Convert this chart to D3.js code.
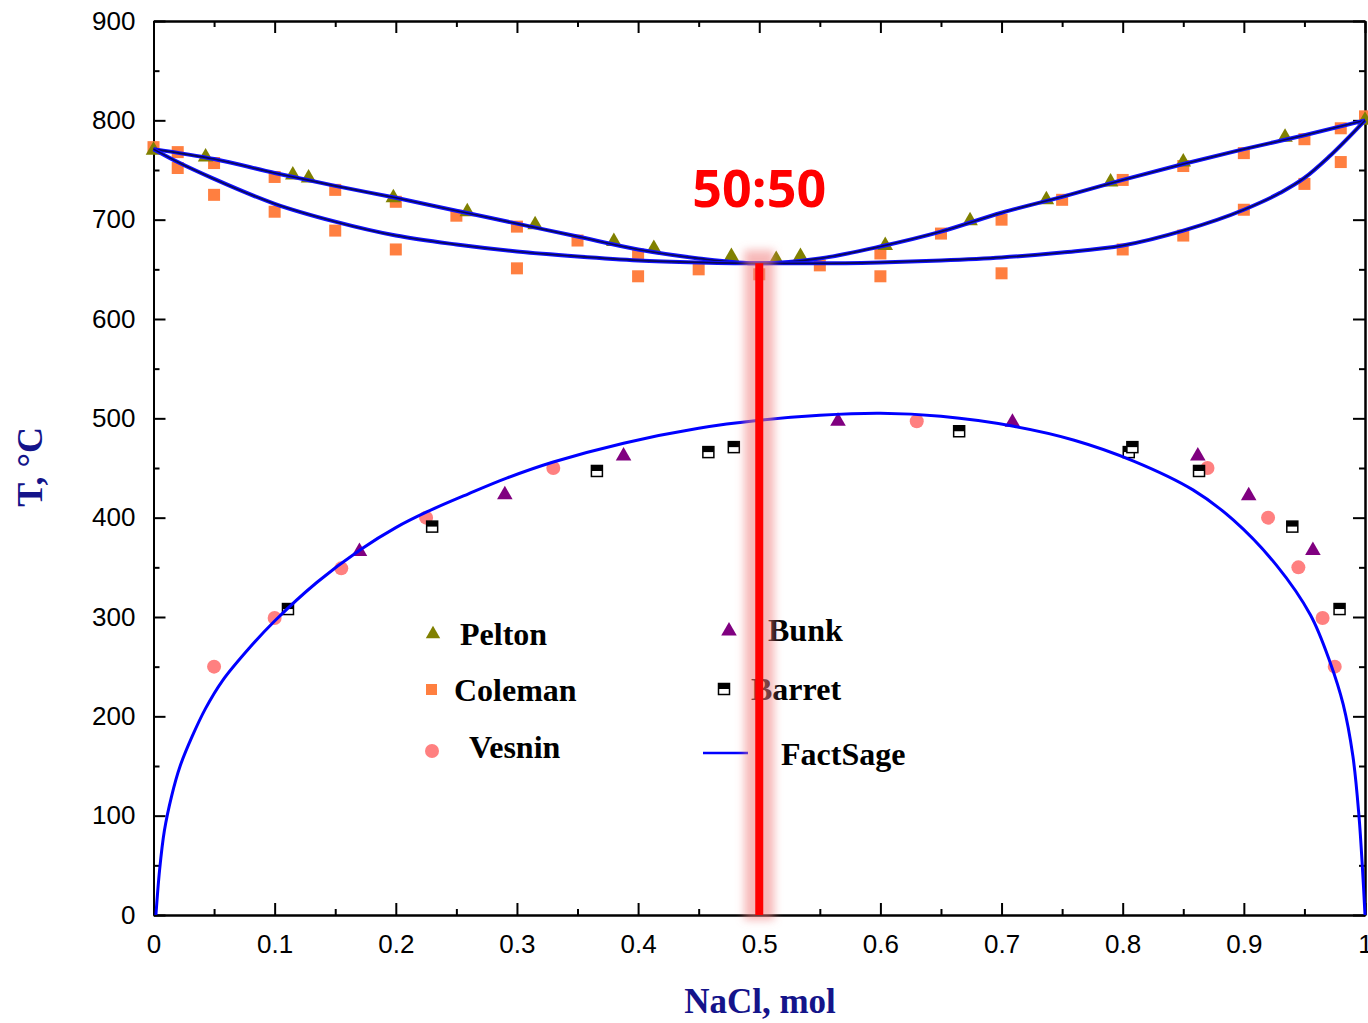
<!DOCTYPE html>
<head>
  <meta charset="utf-8">
  <title>NaCl phase diagram</title>
  <script src="https://cdn.jsdelivr.net/npm/d3@7/dist/d3.min.js"></script>
  <style>
  body { margin: 0; background: #fff; }
  .axis path, .axis line { stroke: #000; stroke-width: 2px; }
  .axis text { font-family: "Liberation Sans", Arial, sans-serif; font-size: 26px; fill: #000; }
  .legend text { font-family: "Liberation Serif", "Times New Roman", serif; font-weight: bold; font-size: 32px; fill: #000; }
  </style>
</head>
<body>
<script>
var WIDTH = 1368, HEIGHT = 1023;

// data: [NaCl mole fraction, T in degC]
var pelton = [[0,770],[0.043,763],[0.115,745],[0.128,742],[0.198,722],[0.259,708],[0.315,695],[0.38,678],[0.413,671],[0.477,663],[0.514,660],[0.534,663],[0.604,674],[0.674,699],[0.737,720],[0.79,738],[0.85,758],[0.934,783],[1.0,800]];
var coleman = [[0,773],[0.02,768],[0.02,752],[0.05,757],[0.05,725],[0.1,743],[0.1,708],[0.15,730],[0.15,689],[0.2,718],[0.2,670],[0.25,704],[0.3,693],[0.3,651],[0.35,679],[0.4,665],[0.4,643],[0.45,650],[0.5,645],[0.55,654],[0.6,666],[0.6,643],[0.65,686],[0.7,700],[0.7,646],[0.75,720],[0.8,740],[0.8,670],[0.85,754],[0.85,684],[0.9,767],[0.9,710],[0.95,781],[0.95,736],[0.98,792],[0.98,758],[1.0,804]];
var vesnin = [[0.05,250],[0.1,299],[0.155,349],[0.225,400],[0.33,450],[0.63,497],[0.87,450],[0.92,400],[0.945,350],[0.965,299],[0.975,250]];
var bunk = [[0.17,366],[0.29,423],[0.388,462],[0.565,497],[0.709,496],[0.862,462],[0.904,422],[0.957,367]];
var barret = [[0.111,308],[0.23,391],[0.366,447],[0.458,466],[0.479,471],[0.665,487],[0.805,466],[0.808,471],[0.863,447],[0.94,391],[0.979,308]];

// FactSage curves
var liquidus = [[0,771],[0.05,761],[0.1,747],[0.15,734],[0.2,722],[0.25,709],[0.3,696],[0.35,683],[0.4,670],[0.45,661],[0.5,656],[0.55,661],[0.6,673],[0.65,688],[0.7,707],[0.75,723],[0.8,740],[0.85,756],[0.9,771],[0.95,785],[1.0,800]];
var solidus = [[0,771],[0.02,758],[0.05,741],[0.1,716],[0.15,698],[0.2,684],[0.25,675],[0.3,668],[0.35,663],[0.4,659],[0.45,657],[0.5,656],[0.55,656],[0.6,657],[0.65,659],[0.7,662],[0.75,667],[0.8,674],[0.85,689],[0.9,710],[0.93,727],[0.95,742],[0.97,763],[1.0,800]];
var gap = [[0.002,0],[0.005,45],[0.009,85],[0.015,120],[0.022,150],[0.032,180],[0.043,208],[0.057,236],[0.08,270],[0.1,296],[0.135,335],[0.171,368],[0.2,390],[0.226,406],[0.26,424],[0.292,440],[0.33,456],[0.388,475],[0.45,490],[0.5,498],[0.55,503],[0.6,505],[0.65,502],[0.71,492],[0.76,478],[0.809,457],[0.858,428],[0.891,398],[0.927,352],[0.955,302],[0.971,255],[0.982,212],[0.99,160],[0.995,100],[0.998,45],[1.0,0]];

var xTicks = [0,0.1,0.2,0.3,0.4,0.5,0.6,0.7,0.8,0.9,1];
var xTickLabels = ["0","0.1","0.2","0.3","0.4","0.5","0.6","0.7","0.8","0.9","1"];
var xMinor = [0.05,0.15,0.25,0.35,0.45,0.55,0.65,0.75,0.85,0.95];
var yTicks = [0,100,200,300,400,500,600,700,800,900];
var yMinor = [50,150,250,350,450,550,650,750,850];

var legendItems = ["Pelton","Coleman","Vesnin","Bunk","Barret","FactSage"];

var L = 153.5, R = 1365, T = 21, B = 915;

var svg = d3.select("body").append("svg")
  .attr("width", WIDTH)
  .attr("height", HEIGHT);

var defs = svg.append("defs");
defs.append("filter").attr("id", "glow")
  .attr("filterUnits", "userSpaceOnUse")
  .attr("x", 700).attr("y", 200).attr("width", 120).attr("height", 760)
  .append("feGaussianBlur").attr("stdDeviation", 4);

var x = d3.scaleLinear().domain([0, 1]).range([L, R]);
var y = d3.scaleLinear().domain([0, 900]).range([B, T]);

// axes with inward ticks on all four sides
function addAxis(axis, tx, ty, vals, size, fmt) {
  var g = svg.append("g").attr("class", "axis")
    .attr("transform", "translate(" + tx + "," + ty + ")")
    .call(axis.tickValues(vals).tickSizeInner(size).tickSizeOuter(0).tickFormat(fmt));
  return g;
}
var none = function(){ return ""; };
addAxis(d3.axisBottom(x), 0, B, xMinor, -6, none);
addAxis(d3.axisTop(x), 0, T, xMinor, -6, none);
addAxis(d3.axisLeft(y), L, 0, yMinor, -6, none);
addAxis(d3.axisRight(y), R, 0, yMinor, -6, none);
addAxis(d3.axisTop(x), 0, T, xTicks, -12, none);
addAxis(d3.axisRight(y), R, 0, yTicks, -12, none);
addAxis(d3.axisBottom(x).tickPadding(20), 0, B, xTicks, -12, function(d, i){ return xTickLabels[i]; });
addAxis(d3.axisLeft(y).tickPadding(18), L, 0, yTicks, -12, function(d){ return d; });

// axis titles
svg.append("text")
  .attr("x", 760).attr("y", 1013)
  .attr("text-anchor", "middle")
  .style("font-family", "'Liberation Serif', 'Times New Roman', serif")
  .style("font-weight", "bold").style("font-size", "35px")
  .attr("fill", "#14148a")
  .text("NaCl, mol");
svg.append("text")
  .attr("transform", "translate(42,467) rotate(-90)")
  .attr("text-anchor", "middle")
  .style("font-family", "'Liberation Serif', 'Times New Roman', serif")
  .style("font-weight", "bold").style("font-size", "36px")
  .attr("fill", "#14148a")
  .text("T, °C");

// markers
var tri = d3.symbol().type(d3.symbolTriangle).size(105);
var triSmall = d3.symbol().type(d3.symbolTriangle).size(90);

function triangles(data, color) {
  svg.append("g").selectAll("path")
    .data(data).enter().append("path")
    .attr("d", tri)
    .attr("transform", function(d){ return "translate(" + x(d[0]) + "," + y(d[1]) + ")"; })
    .attr("fill", color);
}

svg.append("g").selectAll("rect")
  .data(coleman).enter().append("rect")
  .attr("x", function(d){ return x(d[0]) - 6; })
  .attr("y", function(d){ return y(d[1]) - 6; })
  .attr("width", 12).attr("height", 12)
  .attr("fill", "#ff7f40");

triangles(pelton, "#808000");

svg.append("g").selectAll("circle")
  .data(vesnin).enter().append("circle")
  .attr("cx", function(d){ return x(d[0]); })
  .attr("cy", function(d){ return y(d[1]); })
  .attr("r", 7)
  .attr("fill", "#ff8080");

triangles(bunk, "#800080");

function barretMark(g) {
  g.append("rect").attr("x", -5.5).attr("y", -5.5).attr("width", 11).attr("height", 11)
    .attr("fill", "#fff").attr("stroke", "#000").attr("stroke-width", 1.5);
  g.append("rect").attr("x", -5.5).attr("y", -5.5).attr("width", 11).attr("height", 5.5)
    .attr("fill", "#000");
}
svg.append("g").selectAll("g")
  .data(barret).enter().append("g")
  .attr("transform", function(d){ return "translate(" + x(d[0]) + "," + y(d[1]) + ")"; })
  .each(function(){ barretMark(d3.select(this)); });

// FactSage lines
var line = d3.line()
  .x(function(d){ return x(d[0]); })
  .y(function(d){ return y(d[1]); })
  .curve(d3.curveMonotoneX);
var smooth = d3.line()
  .x(function(d){ return x(d[0]); })
  .y(function(d){ return y(d[1]); })
  .curve(d3.curveCatmullRom.alpha(0.5));

[liquidus, solidus].forEach(function(c){
  svg.append("path").attr("d", line(c))
    .attr("fill", "none").attr("stroke", "#1010ff").attr("stroke-width", 4);
  svg.append("path").attr("d", line(c))
    .attr("fill", "none").attr("stroke", "#0a0a55").attr("stroke-width", 1.6);
});
svg.append("path").attr("d", smooth(gap))
  .attr("fill", "none").attr("stroke", "#0000ff").attr("stroke-width", 3);

// legend
var lg = svg.append("g").attr("class", "legend");
lg.append("path").attr("d", triSmall).attr("transform", "translate(433,634)").attr("fill", "#808000");
lg.append("text").attr("x", 460).attr("y", 645).text(legendItems[0]);
lg.append("rect").attr("x", 426).attr("y", 684).attr("width", 11).attr("height", 11).attr("fill", "#ff7f40");
lg.append("text").attr("x", 454).attr("y", 701).text(legendItems[1]);
lg.append("circle").attr("cx", 432).attr("cy", 751).attr("r", 7).attr("fill", "#ff8080");
lg.append("text").attr("x", 469).attr("y", 758).text(legendItems[2]);
lg.append("path").attr("d", tri).attr("transform", "translate(729,631)").attr("fill", "#800080");
lg.append("text").attr("x", 768).attr("y", 641).text(legendItems[3]);
barretMark(lg.append("g").attr("transform", "translate(724,689)"));
lg.append("text").attr("x", 751).attr("y", 700).text(legendItems[4]);
lg.append("line").attr("x1", 703).attr("x2", 748).attr("y1", 753).attr("y2", 753)
  .attr("stroke", "#0000ff").attr("stroke-width", 2.5);
lg.append("text").attr("x", 781).attr("y", 765).text(legendItems[5]);

// 50:50 marker with soft pink glow
svg.append("rect")
  .attr("x", x(0.5) - 15).attr("y", 250)
  .attr("width", 30).attr("height", 670)
  .attr("fill", "#f08080").attr("fill-opacity", 0.55)
  .attr("filter", "url(#glow)");
svg.append("line")
  .attr("x1", x(0.5)).attr("x2", x(0.5))
  .attr("y1", y(656)).attr("y2", B)
  .attr("stroke", "#ff0000").attr("stroke-width", 8);
svg.append("text")
  .attr("x", x(0.5)).attr("y", 207)
  .attr("text-anchor", "middle")
  .style("font-family", "'Open Sans', sans-serif")
  .style("font-weight", "bold").style("font-size", "52px")
  .attr("fill", "#ff0000")
  .text("50:50");
</script>
</body>
